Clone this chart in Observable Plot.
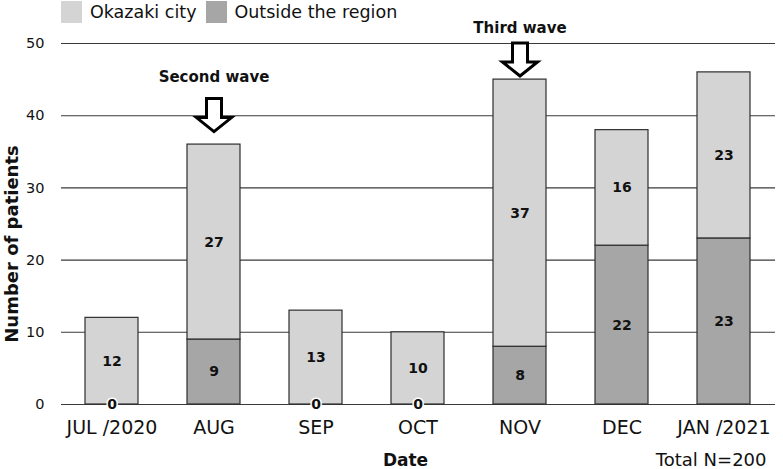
<!DOCTYPE html>
<html>
<head>
<meta charset="utf-8">
<script src="https://cdn.jsdelivr.net/npm/d3@7"></script>
<script src="https://cdn.jsdelivr.net/npm/@observablehq/plot@0.6"></script>
<style>
  html, body { margin: 0; padding: 0; background: #fff; }
  body { width: 783px; height: 469px; overflow: hidden; font-family: "DejaVu Sans", Verdana, sans-serif; }
  #legend { height: 24px; display: flex; align-items: center; padding-left: 61px; font-size: 17.5px; color: #111; }
  #legend .sw { width: 21px; height: 22px; margin-right: 8px; }
  #legend .item { display: flex; align-items: center; margin-right: 9px; }
  svg { display: block; overflow: visible; }
</style>
</head>
<body>
<div id="legend"></div>
<div id="chart"></div>
<script>
const months = ["JUL /2020", "AUG", "SEP", "OCT", "NOV", "DEC", "JAN /2021"];
const okazaki = [12, 27, 13, 10, 37, 16, 23];
const outside = [0, 9, 0, 0, 8, 22, 23];
const groups = ["Okazaki city", "Outside the region"];
const groupColors = ["#d4d4d4", "#a6a6a6"];
const yTicks = [0, 10, 20, 30, 40, 50];
const waveMonths = ["AUG", "NOV"];
const waveLabels = ["Second wave", "Third wave"];
const waveArrowTip = [37.8, 45.5];
const waveLabelLevel = [45.3, 52.1];
const yLabel = "Number of patients";
const xLabel = "Date";
const totalNote = "Total N=200";

const rows = months.flatMap((m, i) => [
  {month: m, group: groups[1], value: outside[i]},
  {month: m, group: groups[0], value: okazaki[i]}
]);
const waves = waveMonths.map((m, i) => ({month: m, label: waveLabels[i], tip: waveArrowTip[i], level: waveLabelLevel[i]}));

// legend
const legend = document.getElementById("legend");
groups.forEach((g, i) => {
  const it = document.createElement("div");
  it.className = "item";
  const sw = document.createElement("div");
  sw.className = "sw";
  sw.style.background = groupColors[i];
  it.appendChild(sw);
  const t = document.createElement("span");
  t.textContent = g;
  it.appendChild(t);
  legend.appendChild(it);
});

const blockArrow = {
  draw(ctx) {
    ctx.moveTo(-7.5, -33);
    ctx.lineTo(7.5, -33);
    ctx.lineTo(7.5, -14);
    ctx.lineTo(17.5, -14);
    ctx.lineTo(0, 0);
    ctx.lineTo(-17.5, -14);
    ctx.lineTo(-7.5, -14);
    ctx.closePath();
  }
};

const order = [groups[1], groups[0]];

const chart = Plot.plot({
  width: 783,
  height: 445,
  marginTop: 19,
  marginBottom: 65,
  marginLeft: 61,
  marginRight: 8,
  style: {fontFamily: "DejaVu Sans, Verdana, sans-serif", color: "#111", background: "white"},
  x: {domain: months, paddingInner: 0.48, paddingOuter: 0.24, label: null},
  y: {domain: [0, 50], label: null},
  color: {domain: groups, range: groupColors},
  marks: [
    Plot.ruleY(yTicks, {stroke: "#3a3a3a", strokeWidth: 1.1}),
    Plot.axisY({ticks: yTicks, tickSize: 0, tickPadding: 17, fontSize: 14.5, label: null}),
    Plot.axisX({tickSize: 0, tickPadding: 16, fontSize: 19, label: null}),
    Plot.barY(rows, {x: "month", y: "value", fill: "group", z: "group", order, stroke: "#2e2e2e", strokeWidth: 1.2}),
    Plot.text(rows, Plot.stackY({x: "month", y: "value", z: "group", order, text: d => String(d.value),
      fontWeight: "bold", fontSize: 14, fill: "#111",
      stroke: d => d.value === 0 ? "white" : "none", strokeWidth: 3, paintOrder: "stroke"})),
    Plot.dot(waves, {x: "month", y: "tip", symbol: blockArrow, r: 10, fill: "white", stroke: "black", strokeWidth: 3, strokeLinejoin: "miter"}),
    Plot.text(waves, {x: "month", y: "level", text: "label", fontWeight: "bold", fontSize: 15, fill: "#111"}),
    Plot.text([yLabel], {frameAnchor: "left", textAnchor: "middle", lineAnchor: "middle", rotate: -90, dx: -49, dy: 20, fontWeight: "bold", fontSize: 18, fill: "#111"}),
    Plot.text([xLabel], {frameAnchor: "bottom", textAnchor: "middle", lineAnchor: "middle", dx: -13, dy: 56, fontWeight: "bold", fontSize: 17, fill: "#111"}),
    Plot.text([totalNote], {frameAnchor: "bottom-right", textAnchor: "end", lineAnchor: "middle", dx: -9, dy: 56, fontSize: 18, fill: "#111"})
  ]
});
document.getElementById("chart").appendChild(chart);
</script>
</body>
</html>
